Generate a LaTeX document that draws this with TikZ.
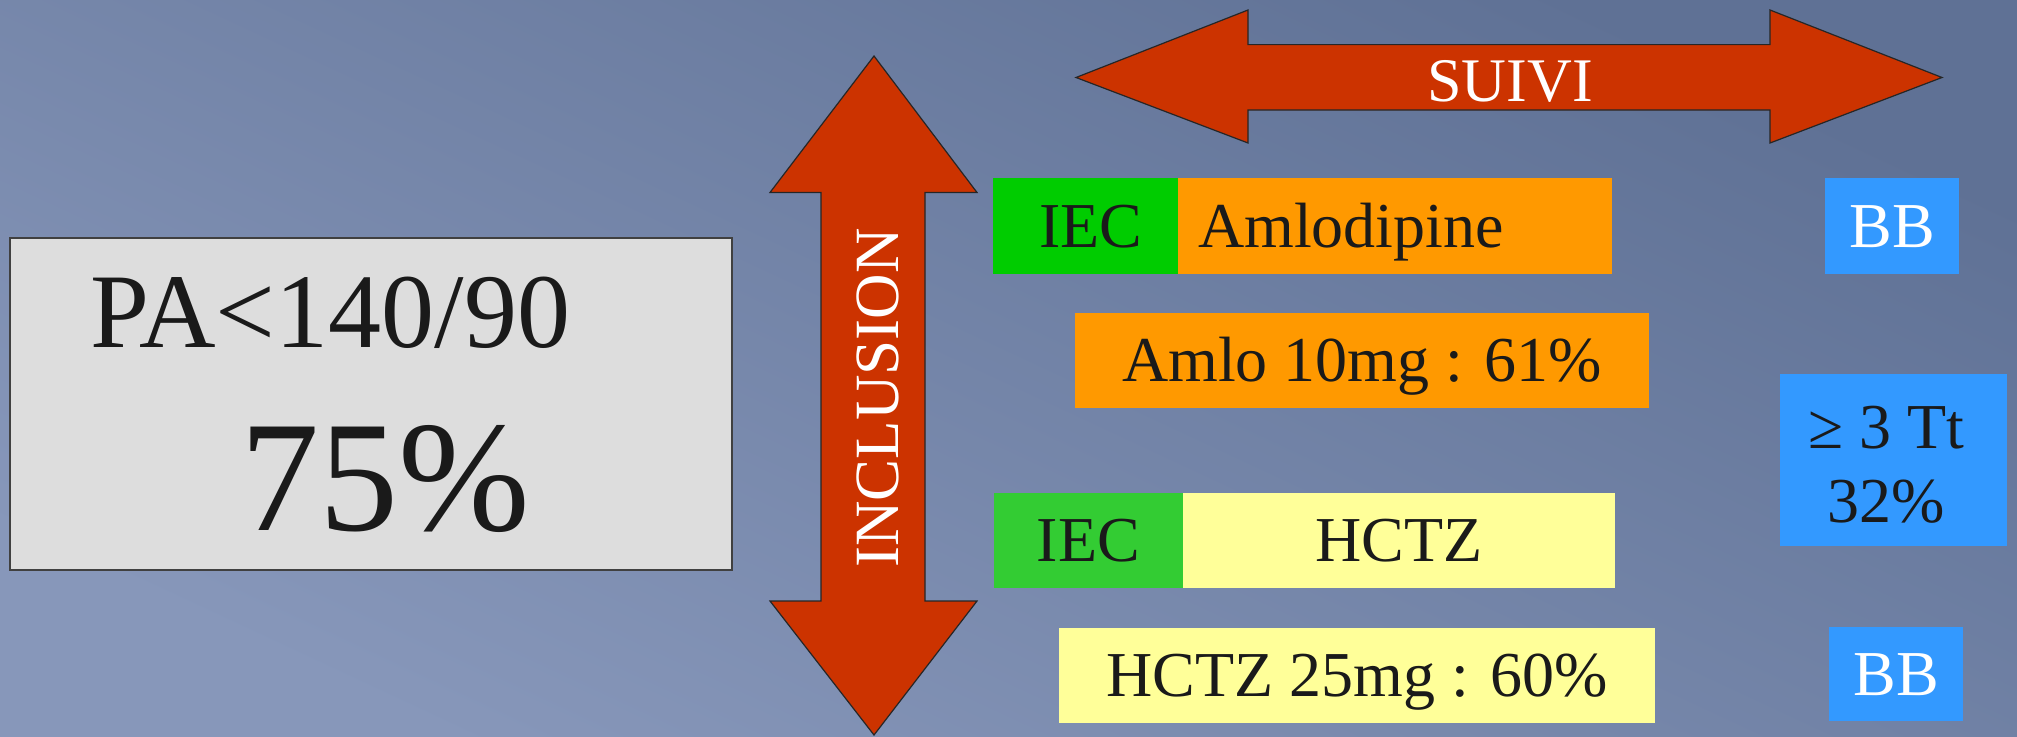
\documentclass[tikz,border=0pt]{standalone}
\usepackage{fontspec}
\setmainfont{Liberation Serif}
\definecolor{arrowred}{HTML}{CC3300}
\definecolor{iecgreen}{HTML}{00CC00}
\definecolor{iecgreenb}{HTML}{33CC33}
\definecolor{amlorange}{HTML}{FF9900}
\definecolor{hctzyellow}{HTML}{FFFF99}
\definecolor{bbblue}{HTML}{3399FF}
\definecolor{pagrey}{HTML}{DDDDDD}
\definecolor{bgdark}{HTML}{5F7195}
\definecolor{bglight}{HTML}{8797BA}
\definecolor{ink}{HTML}{1A1A1A}
\begin{document}
\begin{tikzpicture}[x=1pt,y=-1pt,
  box/.style={rectangle, inner sep=0pt, text height=42pt, text depth=0pt,
    font=\fontsize{64}{74}\selectfont, text=ink},
  bigarrow/.style={fill=arrowred, draw=black!85, line width=1.2pt, line join=miter},
  wlabel/.style={inner sep=0pt, text height=42pt, text depth=0pt,
    font=\fontsize{62}{74}\selectfont, text=white},
  plain/.style={inner sep=0pt, anchor=base, text=ink}]
\useasboundingbox (0,0) rectangle (2017,736);
\shade[top color=bgdark, bottom color=bglight, shading angle=-25] (0,0) rectangle (2017,736);

% left box
\node[rectangle, draw=black!75, line width=1.2pt, fill=pagrey, minimum width=722pt, minimum height=332pt, inner sep=0pt] (pa) at (371,404) {};
\node[plain, font=\fontsize{106}{120}\selectfont] (patxt) at (330,347) {PA<140/90};
\node[plain, font=\fontsize{158}{180}\selectfont] (pct) at (385,530) {75\%};

% INCLUSION arrow
\draw[bigarrow] (874,56) -- (977,192.5) -- (925,192.5) -- (925,601) -- (977,601) -- (874,735)
  -- (770,601) -- (821,601) -- (821,192.5) -- (770,192.5) -- cycle;
\node[wlabel, rotate=90, font=\fontsize{63}{74}\selectfont] (incl) at (877,398) {INCLUSION};

% SUIVI arrow
\draw[bigarrow] (1076,77.5) -- (1248,10) -- (1248,44.6) -- (1770,44.6) -- (1770,10) -- (1942,77.5)
  -- (1770,143) -- (1770,110) -- (1248,110) -- (1248,143) -- cycle;
\node[wlabel] (suivi) at (1510,80) {SUIVI};

% row 1
\node[box, fill=iecgreen, minimum width=185pt, minimum height=96pt] (iec1) at (1085.5,226) {\hspace{11pt}IEC};
\node[box, fill=amlorange, minimum width=434pt, minimum height=96pt, text width=394pt, align=left] (amlo) at (1395,226) {Amlodipine};
\node[box, fill=bbblue, text=white, minimum width=134pt, minimum height=96pt] (bb1) at (1892,226) {BB};

% row 2
\node[box, fill=amlorange, minimum width=574pt, minimum height=95pt] (amlo10) at (1362,360.5) {Amlo 10mg : 61\%\hspace{18pt}};

% tt box
\node[rectangle, fill=bbblue, minimum width=227pt, minimum height=172pt, inner sep=0pt] (tt) at (1893.5,460) {};
\node[plain, text=ink, font=\fontsize{64}{74}\selectfont, anchor=base] (tt1) at (1886,448) {≥ 3 Tt};
\node[plain, text=ink, font=\fontsize{64}{74}\selectfont, anchor=base] (tt2) at (1886,522) {32\%};

% row 3
\node[box, fill=iecgreenb, minimum width=189pt, minimum height=95pt] (iec2) at (1088.5,540.5) {IEC\hspace{6pt}};
\node[box, fill=hctzyellow, minimum width=432.5pt, minimum height=95pt] (hctz) at (1399,540.5) {HCTZ\hspace{12pt}};

% row 4
\node[box, fill=hctzyellow, minimum width=596pt, minimum height=95pt] (hctz25) at (1357,675.5) {HCTZ 25mg : 60\%\hspace{18pt}};
\node[box, fill=bbblue, text=white, minimum width=134pt, minimum height=94pt] (bb2) at (1896,674) {BB};
\end{tikzpicture}
\end{document}
